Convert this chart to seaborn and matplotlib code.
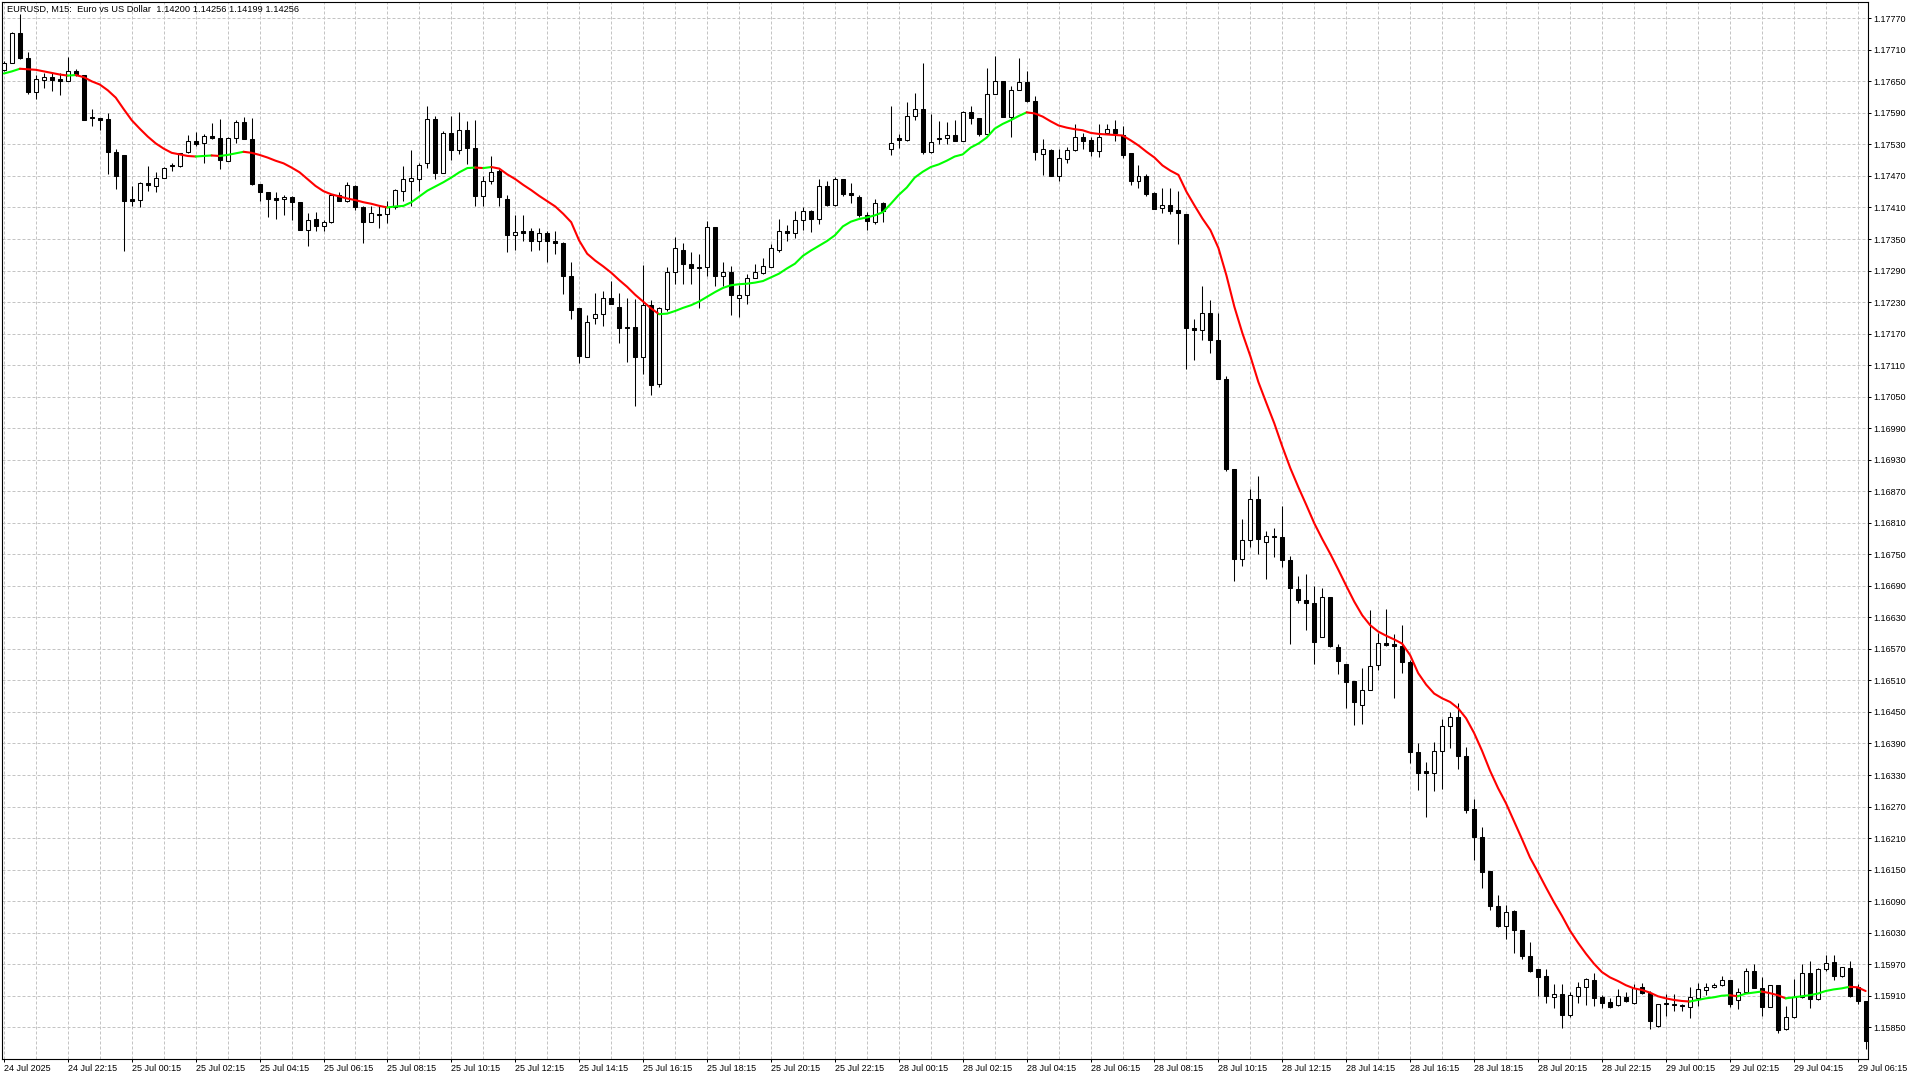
import numpy as np
import pandas as pd
import matplotlib
matplotlib.use("Agg")
import matplotlib.pyplot as plt
import seaborn as sns
from matplotlib.ticker import MultipleLocator

title_text = "EURUSD, M15:  Euro vs US Dollar  1.14200 1.14256 1.14199 1.14256"

open_ = [
    1.17671, 1.17685, 1.17742, 1.17694, 1.17629, 1.17652, 1.17658, 1.17655, 1.17651, 1.17670,
    1.17663, 1.17583, 1.17581, 1.17579, 1.17516, 1.17509, 1.17426, 1.17425, 1.17456, 1.17451,
    1.17467, 1.17491, 1.17489, 1.17516, 1.17537, 1.17532, 1.17546, 1.17543, 1.17499, 1.17543,
    1.17573, 1.17541, 1.17454, 1.17440, 1.17428, 1.17426, 1.17429, 1.17421, 1.17368, 1.17388,
    1.17374, 1.17382, 1.17434, 1.17422, 1.17451, 1.17410, 1.17383, 1.17398, 1.17398, 1.17410,
    1.17442, 1.17461, 1.17465, 1.17494, 1.17579, 1.17475, 1.17552, 1.17519, 1.17557, 1.17524,
    1.17432, 1.17460, 1.17480, 1.17427, 1.17357, 1.17365, 1.17365, 1.17346, 1.17361, 1.17346,
    1.17342, 1.17280, 1.17218, 1.17126, 1.17199, 1.17208, 1.17238, 1.17221, 1.17183, 1.17183,
    1.17125, 1.17225, 1.17075, 1.17216, 1.17287, 1.17330, 1.17303, 1.17296, 1.17296, 1.17372,
    1.17280, 1.17287, 1.17238, 1.17243, 1.17276, 1.17286, 1.17297, 1.17330, 1.17365, 1.17362,
    1.17387, 1.17403, 1.17389, 1.17450, 1.17415, 1.17465, 1.17437, 1.17429, 1.17395, 1.17383,
    1.17418, 1.17521, 1.17543, 1.17538, 1.17585, 1.17597, 1.17516, 1.17540, 1.17543, 1.17547,
    1.17537, 1.17592, 1.17581, 1.17550, 1.17626, 1.17651, 1.17583, 1.17634, 1.17649, 1.17612,
    1.17511, 1.17519, 1.17470, 1.17503, 1.17519, 1.17545, 1.17538, 1.17517, 1.17551, 1.17560,
    1.17548, 1.17513, 1.17461, 1.17470, 1.17437, 1.17409, 1.17415, 1.17405, 1.17398, 1.17180,
    1.17176, 1.17210, 1.17158, 1.17084, 1.16913, 1.16742, 1.16777, 1.16856, 1.16773, 1.16784,
    1.16782, 1.16740, 1.16684, 1.16663, 1.16658, 1.16593, 1.16669, 1.16573, 1.16542, 1.16508,
    1.16463, 1.16492, 1.16540, 1.16582, 1.16580, 1.16576, 1.16545, 1.16373, 1.16337, 1.16334,
    1.16375, 1.16424, 1.16441, 1.16366, 1.16266, 1.16213, 1.16147, 1.16081, 1.16043, 1.16071,
    1.16035, 1.15985, 1.15960, 1.15947, 1.15908, 1.15914, 1.15873, 1.15910, 1.15926, 1.15940,
    1.15907, 1.15899, 1.15892, 1.15908, 1.15897, 1.15926, 1.15916, 1.15853, 1.15897, 1.15895,
    1.15893, 1.15889, 1.15906, 1.15921, 1.15926, 1.15930, 1.15939, 1.15902, 1.15917, 1.15958,
    1.15925, 1.15889, 1.15930, 1.15846, 1.15869, 1.15908, 1.15954, 1.15904, 1.15960, 1.15975,
    1.15948, 1.15962, 1.15926, 1.15900,
]

high = [
    1.17688, 1.17743, 1.17778, 1.17706, 1.17663, 1.17666, 1.17665, 1.17665, 1.17696, 1.17673,
    1.17663, 1.17598, 1.17581, 1.17590, 1.17522, 1.17509, 1.17451, 1.17458, 1.17488, 1.17478,
    1.17487, 1.17495, 1.17514, 1.17548, 1.17554, 1.17549, 1.17570, 1.17579, 1.17544, 1.17576,
    1.17583, 1.17581, 1.17454, 1.17440, 1.17439, 1.17434, 1.17432, 1.17421, 1.17400, 1.17401,
    1.17387, 1.17436, 1.17439, 1.17459, 1.17453, 1.17413, 1.17413, 1.17415, 1.17423, 1.17445,
    1.17488, 1.17519, 1.17495, 1.17604, 1.17585, 1.17555, 1.17584, 1.17591, 1.17574, 1.17577,
    1.17470, 1.17508, 1.17483, 1.17434, 1.17395, 1.17395, 1.17371, 1.17371, 1.17366, 1.17366,
    1.17344, 1.17306, 1.17218, 1.17206, 1.17248, 1.17251, 1.17270, 1.17248, 1.17237, 1.17236,
    1.17301, 1.17234, 1.17221, 1.17297, 1.17354, 1.17343, 1.17325, 1.17322, 1.17384, 1.17372,
    1.17306, 1.17299, 1.17262, 1.17284, 1.17303, 1.17313, 1.17341, 1.17388, 1.17377, 1.17404,
    1.17410, 1.17406, 1.17464, 1.17461, 1.17468, 1.17465, 1.17456, 1.17434, 1.17401, 1.17427,
    1.17420, 1.17603, 1.17550, 1.17610, 1.17627, 1.17684, 1.17587, 1.17574, 1.17572, 1.17577,
    1.17593, 1.17603, 1.17581, 1.17675, 1.17699, 1.17651, 1.17641, 1.17694, 1.17670, 1.17622,
    1.17540, 1.17521, 1.17521, 1.17526, 1.17568, 1.17552, 1.17545, 1.17568, 1.17568, 1.17577,
    1.17566, 1.17514, 1.17490, 1.17473, 1.17439, 1.17448, 1.17447, 1.17442, 1.17398, 1.17197,
    1.17260, 1.17234, 1.17210, 1.17089, 1.16913, 1.16817, 1.16875, 1.16899, 1.16795, 1.16801,
    1.16841, 1.16746, 1.16708, 1.16713, 1.16690, 1.16685, 1.16669, 1.16580, 1.16542, 1.16508,
    1.16534, 1.16644, 1.16600, 1.16646, 1.16598, 1.16616, 1.16549, 1.16391, 1.16355, 1.16392,
    1.16436, 1.16449, 1.16468, 1.16383, 1.16285, 1.16231, 1.16147, 1.16102, 1.16083, 1.16073,
    1.16036, 1.16012, 1.15961, 1.15960, 1.15932, 1.15932, 1.15917, 1.15936, 1.15943, 1.15954,
    1.15911, 1.15905, 1.15922, 1.15917, 1.15933, 1.15935, 1.15919, 1.15894, 1.15913, 1.15914,
    1.15894, 1.15926, 1.15935, 1.15934, 1.15934, 1.15947, 1.15940, 1.15924, 1.15963, 1.15970,
    1.15946, 1.15930, 1.15930, 1.15890, 1.15941, 1.15971, 1.15977, 1.15963, 1.15987, 1.15987,
    1.15965, 1.15977, 1.15933, 1.15900,
]

low = [
    1.17669, 1.17684, 1.17693, 1.17625, 1.17617, 1.17637, 1.17631, 1.17624, 1.17651, 1.17661,
    1.17576, 1.17566, 1.17557, 1.17473, 1.17446, 1.17328, 1.17412, 1.17410, 1.17442, 1.17440,
    1.17466, 1.17480, 1.17487, 1.17514, 1.17527, 1.17494, 1.17541, 1.17484, 1.17499, 1.17533,
    1.17541, 1.17453, 1.17422, 1.17391, 1.17389, 1.17396, 1.17387, 1.17368, 1.17336, 1.17366,
    1.17365, 1.17381, 1.17422, 1.17421, 1.17406, 1.17343, 1.17383, 1.17371, 1.17381, 1.17408,
    1.17423, 1.17412, 1.17442, 1.17486, 1.17465, 1.17475, 1.17501, 1.17511, 1.17492, 1.17413,
    1.17412, 1.17454, 1.17412, 1.17326, 1.17330, 1.17347, 1.17328, 1.17330, 1.17306, 1.17321,
    1.17246, 1.17198, 1.17114, 1.17126, 1.17188, 1.17184, 1.17227, 1.17152, 1.17116, 1.17032,
    1.17093, 1.17053, 1.17068, 1.17213, 1.17265, 1.17265, 1.17265, 1.17218, 1.17280, 1.17261,
    1.17261, 1.17206, 1.17202, 1.17226, 1.17275, 1.17284, 1.17296, 1.17325, 1.17347, 1.17352,
    1.17368, 1.17363, 1.17379, 1.17413, 1.17413, 1.17431, 1.17419, 1.17391, 1.17368, 1.17379,
    1.17382, 1.17510, 1.17524, 1.17537, 1.17577, 1.17511, 1.17514, 1.17530, 1.17530, 1.17537,
    1.17537, 1.17568, 1.17546, 1.17549, 1.17625, 1.17583, 1.17545, 1.17633, 1.17611, 1.17501,
    1.17472, 1.17469, 1.17461, 1.17494, 1.17517, 1.17521, 1.17508, 1.17506, 1.17549, 1.17537,
    1.17505, 1.17453, 1.17447, 1.17432, 1.17407, 1.17400, 1.17398, 1.17340, 1.17103, 1.17119,
    1.17157, 1.17134, 1.17083, 1.16909, 1.16699, 1.16728, 1.16763, 1.16751, 1.16703, 1.16744,
    1.16726, 1.16579, 1.16657, 1.16606, 1.16542, 1.16592, 1.16573, 1.16523, 1.16458, 1.16425,
    1.16428, 1.16492, 1.16529, 1.16575, 1.16476, 1.16524, 1.16353, 1.16301, 1.16251, 1.16300,
    1.16303, 1.16381, 1.16341, 1.16258, 1.16168, 1.16115, 1.16073, 1.16041, 1.16018, 1.15991,
    1.15979, 1.15955, 1.15909, 1.15897, 1.15887, 1.15848, 1.15870, 1.15897, 1.15892, 1.15890,
    1.15886, 1.15886, 1.15890, 1.15899, 1.15895, 1.15914, 1.15846, 1.15851, 1.15871, 1.15880,
    1.15880, 1.15867, 1.15890, 1.15911, 1.15924, 1.15928, 1.15889, 1.15885, 1.15916, 1.15924,
    1.15871, 1.15889, 1.15840, 1.15845, 1.15867, 1.15905, 1.15886, 1.15902, 1.15958, 1.15940,
    1.15946, 1.15908, 1.15894, 1.15809,
]

close = [
    1.17685, 1.17742, 1.17694, 1.17629, 1.17655, 1.17658, 1.17652, 1.17651, 1.17670, 1.17663,
    1.17577, 1.17581, 1.17576, 1.17516, 1.17470, 1.17423, 1.17423, 1.17456, 1.17453, 1.17467,
    1.17486, 1.17488, 1.17513, 1.17537, 1.17531, 1.17546, 1.17543, 1.17501, 1.17543, 1.17573,
    1.17541, 1.17454, 1.17439, 1.17427, 1.17425, 1.17429, 1.17420, 1.17368, 1.17387, 1.17374,
    1.17382, 1.17434, 1.17422, 1.17453, 1.17410, 1.17383, 1.17399, 1.17396, 1.17410, 1.17444,
    1.17464, 1.17467, 1.17490, 1.17579, 1.17475, 1.17551, 1.17519, 1.17557, 1.17523, 1.17432,
    1.17460, 1.17478, 1.17429, 1.17357, 1.17364, 1.17362, 1.17346, 1.17361, 1.17346, 1.17342,
    1.17279, 1.17215, 1.17128, 1.17193, 1.17208, 1.17238, 1.17227, 1.17181, 1.17180, 1.17125,
    1.17225, 1.17073, 1.17219, 1.17287, 1.17333, 1.17302, 1.17295, 1.17294, 1.17372, 1.17280,
    1.17287, 1.17243, 1.17243, 1.17276, 1.17287, 1.17299, 1.17333, 1.17366, 1.17361, 1.17387,
    1.17403, 1.17388, 1.17450, 1.17415, 1.17465, 1.17436, 1.17434, 1.17395, 1.17384, 1.17418,
    1.17404, 1.17533, 1.17538, 1.17585, 1.17597, 1.17516, 1.17535, 1.17543, 1.17547, 1.17537,
    1.17592, 1.17581, 1.17550, 1.17626, 1.17651, 1.17583, 1.17634, 1.17649, 1.17612, 1.17516,
    1.17521, 1.17470, 1.17504, 1.17519, 1.17545, 1.17537, 1.17517, 1.17545, 1.17560, 1.17551,
    1.17510, 1.17461, 1.17469, 1.17436, 1.17407, 1.17415, 1.17404, 1.17399, 1.17180, 1.17176,
    1.17210, 1.17157, 1.17083, 1.16913, 1.16742, 1.16777, 1.16856, 1.16779, 1.16784, 1.16782,
    1.16740, 1.16685, 1.16664, 1.16658, 1.16584, 1.16669, 1.16575, 1.16547, 1.16507, 1.16469,
    1.16492, 1.16538, 1.16581, 1.16578, 1.16576, 1.16545, 1.16373, 1.16333, 1.16334, 1.16375,
    1.16424, 1.16441, 1.16366, 1.16263, 1.16213, 1.16146, 1.16081, 1.16043, 1.16070, 1.16035,
    1.15986, 1.15958, 1.15946, 1.15909, 1.15914, 1.15873, 1.15911, 1.15926, 1.15941, 1.15906,
    1.15897, 1.15889, 1.15910, 1.15900, 1.15925, 1.15916, 1.15861, 1.15894, 1.15894, 1.15893,
    1.15890, 1.15907, 1.15922, 1.15926, 1.15930, 1.15939, 1.15895, 1.15917, 1.15958, 1.15925,
    1.15889, 1.15930, 1.15844, 1.15869, 1.15908, 1.15954, 1.15904, 1.15960, 1.15973, 1.15948,
    1.15964, 1.15909, 1.15900, 1.15823,
]

ma = [
    1.17665, 1.17669, 1.17674, 1.17673, 1.17672, 1.17669, 1.17666, 1.17663, 1.17661, 1.17662,
    1.17658, 1.17650, 1.17644, 1.17633, 1.17619, 1.17597, 1.17576, 1.17560, 1.17545, 1.17532,
    1.17522, 1.17514, 1.17511, 1.17508, 1.17507, 1.17508, 1.17509, 1.17508, 1.17510, 1.17513,
    1.17516, 1.17514, 1.17510, 1.17505, 1.17499, 1.17494, 1.17486, 1.17477, 1.17464, 1.17451,
    1.17441, 1.17435, 1.17431, 1.17427, 1.17424, 1.17420, 1.17417, 1.17413, 1.17410, 1.17412,
    1.17413, 1.17420, 1.17431, 1.17442, 1.17450, 1.17458, 1.17467, 1.17477, 1.17485, 1.17486,
    1.17485, 1.17487, 1.17484, 1.17473, 1.17464, 1.17453, 1.17443, 1.17432, 1.17422, 1.17412,
    1.17398, 1.17382, 1.17347, 1.17322, 1.17309, 1.17298, 1.17286, 1.17272, 1.17259, 1.17244,
    1.17231, 1.17218, 1.17207, 1.17208, 1.17213, 1.17219, 1.17224, 1.17231, 1.17240, 1.17249,
    1.17257, 1.17262, 1.17264, 1.17265, 1.17267, 1.17270, 1.17277, 1.17284, 1.17294, 1.17303,
    1.17318, 1.17328, 1.17337, 1.17346, 1.17357, 1.17374, 1.17383, 1.17388, 1.17391, 1.17395,
    1.17401, 1.17417, 1.17434, 1.17448, 1.17467, 1.17478, 1.17487, 1.17492, 1.17499, 1.17507,
    1.17511, 1.17524, 1.17532, 1.17543, 1.17560, 1.17569, 1.17576, 1.17584, 1.17591, 1.17589,
    1.17583, 1.17574, 1.17566, 1.17562, 1.17559, 1.17557, 1.17552, 1.17550, 1.17549, 1.17548,
    1.17547, 1.17538, 1.17528, 1.17516, 1.17505, 1.17490, 1.17480, 1.17472, 1.17440, 1.17414,
    1.17389, 1.17367, 1.17333, 1.17281, 1.17221, 1.17171, 1.17127, 1.17078, 1.17038, 1.16999,
    1.16955, 1.16914, 1.16878, 1.16844, 1.16809, 1.16779, 1.16751, 1.16721, 1.16690, 1.16660,
    1.16634, 1.16615, 1.16603, 1.16595, 1.16588, 1.16580, 1.16558, 1.16524, 1.16502, 1.16485,
    1.16476, 1.16469, 1.16457, 1.16438, 1.16410, 1.16376, 1.16338, 1.16305, 1.16276, 1.16242,
    1.16208, 1.16173, 1.16145, 1.16116, 1.16088, 1.16062, 1.16034, 1.16011, 1.15990, 1.15971,
    1.15955, 1.15945, 1.15938, 1.15930, 1.15924, 1.15921, 1.15916, 1.15909, 1.15905, 1.15902,
    1.15900, 1.15899, 1.15902, 1.15905, 1.15907, 1.15910, 1.15911, 1.15909, 1.15914, 1.15916,
    1.15918, 1.15915, 1.15911, 1.15905, 1.15907, 1.15909, 1.15911, 1.15914, 1.15919, 1.15922,
    1.15924, 1.15927, 1.15926, 1.15919,
]

x_labels = [
    "24 Jul 2025", "24 Jul 22:15", "25 Jul 00:15", "25 Jul 02:15", "25 Jul 04:15",
    "25 Jul 06:15", "25 Jul 08:15", "25 Jul 10:15", "25 Jul 12:15", "25 Jul 14:15",
    "25 Jul 16:15", "25 Jul 18:15", "25 Jul 20:15", "25 Jul 22:15", "28 Jul 00:15",
    "28 Jul 02:15", "28 Jul 04:15", "28 Jul 06:15", "28 Jul 08:15", "28 Jul 10:15",
    "28 Jul 12:15", "28 Jul 14:15", "28 Jul 16:15", "28 Jul 18:15", "28 Jul 20:15",
    "28 Jul 22:15", "29 Jul 00:15", "29 Jul 02:15", "29 Jul 04:15", "29 Jul 06:15",
]

y_ticks = [
    1.15850, 1.15910, 1.15970, 1.16030, 1.16090, 1.16150, 1.16210, 1.16270, 1.16330,
    1.16390, 1.16450, 1.16510, 1.16570, 1.16630, 1.16690, 1.16750, 1.16810, 1.16870,
    1.16930, 1.16990, 1.17050, 1.17110, 1.17170, 1.17230, 1.17290, 1.17350, 1.17410,
    1.17470, 1.17530, 1.17590, 1.17650, 1.17710, 1.17770,
]

# ---------------------------------------------------------------- styling
sns.set_theme(style="white")
plt.rcParams["font.family"] = ["Liberation Sans", "DejaVu Sans"]

df = pd.DataFrame({"open": open_, "high": high, "low": low, "close": close, "ma": ma})
df["bar"] = np.arange(len(df))

fig = plt.figure(figsize=(19.2, 10.8), dpi=100)
fig.patch.set_facecolor("white")
ax = fig.add_axes([1.5 / 1920, 21 / 1080, 1866.5 / 1920, 1057 / 1080])
ax.set_facecolor("white")

grid_kw = dict(color="#c4c4c4", linestyle=(0, (3, 2)), linewidth=0.72)
ax.set_xticks(df["bar"].values[::8])
ax.set_xticklabels(x_labels, ha="left")
ax.xaxis.set_minor_locator(MultipleLocator(4))
ax.set_yticks(y_ticks)
ax.set_yticklabels([f"{v:.5f}" for v in y_ticks])
ax.grid(True, which="both", axis="x", **grid_kw)
ax.grid(True, which="major", axis="y", **grid_kw)
ax.set_axisbelow(True)

# ---------------------------------------------------------------- candles
bars = df["bar"].values
o = df["open"].values
c = df["close"].values
bull = c >= o
body_bottom = np.minimum(o, c)
body_h = np.maximum(np.abs(c - o), 0.000012)

ax.vlines(bars, df["low"].values, df["high"].values, color="black", linewidth=0.75, zorder=3)
ax.bar(bars[bull], body_h[bull], bottom=body_bottom[bull], width=0.5,
       color="white", edgecolor="black", linewidth=0.75, zorder=4)
ax.bar(bars[~bull], body_h[~bull], bottom=body_bottom[~bull], width=0.5,
       color="black", edgecolor="black", linewidth=0.75, zorder=4)

# ---------------------------------------------------------------- coloured moving average
ma_arr = df["ma"].values
up = np.round(np.diff(ma_arr), 6) >= 0
start = 0
n_seg = len(up)
for k in range(1, n_seg + 1):
    if k == n_seg or up[k] != up[start]:
        seg = df.iloc[start:k + 1]
        sns.lineplot(x=seg["bar"].values, y=seg["ma"].values, ax=ax, sort=False,
                     estimator=None, color="#00ff00" if up[start] else "#ff0000",
                     linewidth=1.5, legend=False, zorder=5)
        start = k

# ---------------------------------------------------------------- axes
ax.set_xlim(-0.3, 233.3)
ax.set_ylim(1.157896, 1.1780102)
ax.set_xlabel("")
ax.set_ylabel("")
ax.yaxis.tick_right()
ax.tick_params(axis="y", which="major", right=True, left=False, direction="out",
               length=2.5, width=0.72, pad=1.0, labelsize=6.5, colors="black")
ax.tick_params(axis="x", which="major", bottom=True, direction="out",
               length=2.5, width=0.72, pad=1.0, labelsize=6.5, colors="black")
ax.tick_params(axis="x", which="minor", bottom=False, length=0)
for sp in ax.spines.values():
    sp.set_visible(True)
    sp.set_color("black")
    sp.set_linewidth(0.8)

fig.text(7 / 1920, 1 - 9 / 1080, title_text, ha="left", va="center",
         fontsize=6.7, color="black")

fig.savefig("out.png", dpi=100, facecolor="white")
